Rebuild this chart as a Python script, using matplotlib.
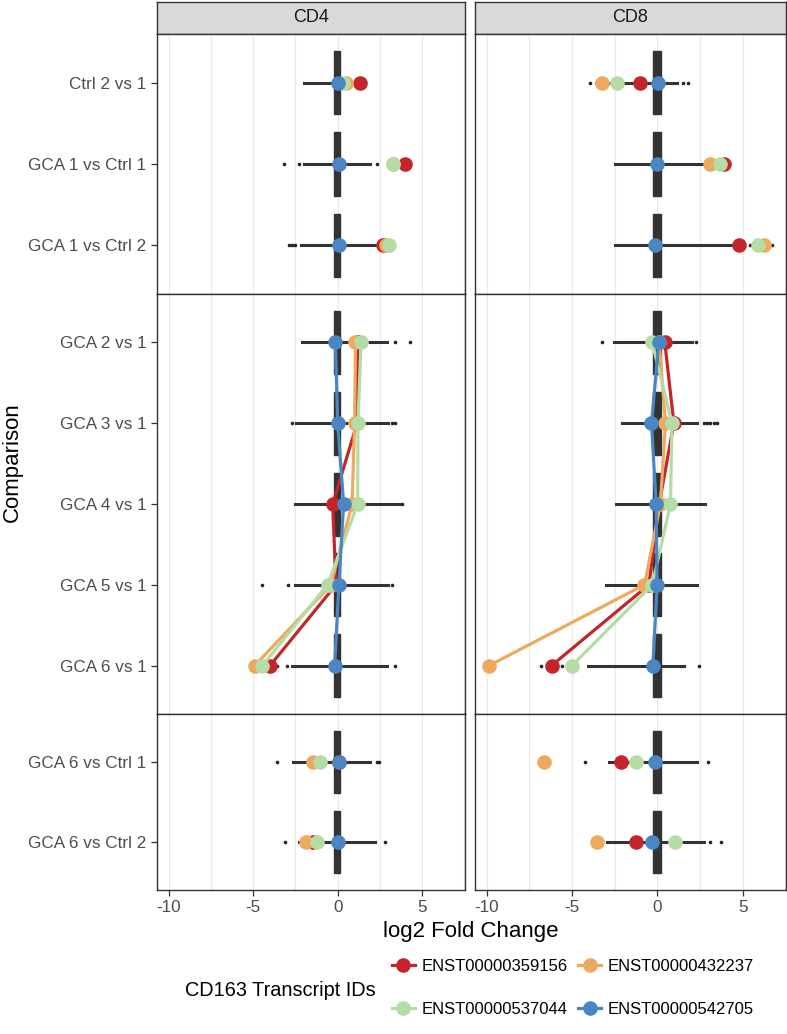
import matplotlib
matplotlib.use('Agg')
import matplotlib.pyplot as plt
from matplotlib.lines import Line2D

plt.rcParams['font.family'] = ['Liberation Sans', 'DejaVu Sans']

# comparisons, split by facet row
rows = [
    ['Ctrl 2 vs 1', 'GCA 1 vs Ctrl 1', 'GCA 1 vs Ctrl 2'],
    ['GCA 2 vs 1', 'GCA 3 vs 1', 'GCA 4 vs 1', 'GCA 5 vs 1', 'GCA 6 vs 1'],
    ['GCA 6 vs Ctrl 1', 'GCA 6 vs Ctrl 2'],
]
cells = ['CD4', 'CD8']
transcripts = ['ENST00000359156', 'ENST00000432237', 'ENST00000537044', 'ENST00000542705']
colors = ['#C3252A', '#EDAA5F', '#B5DCA4', '#4A86C3']

# log2 FC of the four CD163 transcripts, in comparison order (10 values)
cd4_fc = [
    [1.3, 4.0, 2.65, 1.2, 1.15, -0.3, -0.1, -4.0, 0.1, -1.45],
    [0.5, 3.3, 2.85, 1.05, 1.0, 0.85, -0.4, -4.9, -1.45, -1.9],
    [0.3, 3.3, 3.05, 1.38, 1.2, 1.18, -0.6, -4.45, -1.05, -1.2],
    [0.0, 0.1, 0.05, -0.14, 0.0, 0.35, 0.07, -0.18, 0.06, 0.0],
]
cd8_fc = [
    [-1.03, 3.9, 4.8, 0.43, 0.96, 0.1, -0.5, -6.2, -2.16, -1.25],
    [-3.27, 3.06, 6.25, 0.1, 0.47, 0.17, -0.76, -9.86, -6.65, -3.53],
    [-2.4, 3.65, 5.9, -0.31, 0.85, 0.76, -0.3, -5.0, -1.25, 1.05],
    [0.04, 0.0, -0.12, 0.08, -0.35, -0.08, -0.02, -0.27, -0.15, -0.31],
]

# boxplot summary of all transcripts
cd4_q1 = [-0.2] * 10
cd4_q3 = [0.15] * 10
cd4_lo = [-2.0, -2.0, -2.2, -2.1, -2.45, -2.5, -2.5, -2.7, -2.65, -2.3]
cd4_hi = [1.2, 1.9, 2.5, 2.9, 3.0, 3.6, 3.0, 2.9, 1.9, 2.2]
cd4_out = [[], [-3.16, -2.27, 2.3], [-2.9, -2.7, -2.5], [3.4, 4.3], [-2.7, 3.2, 3.4],
           [3.8], [-4.46, -2.94, 3.2], [-3.6, -3.0, 3.4], [-3.6, 2.3, 2.46], [-3.14, 2.79]]
cd8_q1 = [-0.25] * 10
cd8_q3 = [0.2] * 10
cd8_lo = [-3.6, -2.5, -2.5, -2.55, -2.1, -2.45, -3.0, -4.07, -2.85, -2.98]
cd8_hi = [1.15, 3.3, 4.6, 2.0, 2.3, 2.8, 2.3, 1.54, 2.3, 2.7]
cd8_out = [[-3.96, 1.5, 1.8], [], [5.44, 6.7], [-3.27, 2.28], [2.7, 2.9, 3.1, 3.3, 3.5],
           [], [], [-6.8, -5.57, 2.46], [-4.25, 2.94], [3.06, 3.72]]

fc = {'CD4': cd4_fc, 'CD8': cd8_fc}
box = {'CD4': (cd4_q1, cd4_q3, cd4_lo, cd4_hi, cd4_out),
       'CD8': (cd8_q1, cd8_q3, cd8_lo, cd8_hi, cd8_out)}

W, H = 787, 1034
fig = plt.figure(figsize=(W / 100, H / 100), dpi=100)


def rect(x0, y0, x1, y1):
    return [x0 / W, 1 - y1 / H, (x1 - x0) / W, (y1 - y0) / H]


cols_px = [(157, 465), (475, 786)]
rows_px = [(34, 294), (294, 714), (714, 890)]
xlim = (-10.69, 7.53)
dark = '#333333'
ms = 10.5

for c, cell in enumerate(cells):
    x0, x1 = cols_px[c]
    # strip
    sax = fig.add_axes(rect(x0, 2, x1, 34))
    sax.set_facecolor('#D9D9D9')
    sax.set_xticks([])
    sax.set_yticks([])
    for s in sax.spines.values():
        s.set_color(dark)
        s.set_linewidth(1.0)
    sax.text(0.5, 0.5, cell, ha='center', va='center', fontsize=13, color='#1A1A1A',
             transform=sax.transAxes)

    q1, q3, lo, hi, out = box[cell]
    start = 0
    for r, comps in enumerate(rows):
        y0, y1 = rows_px[r]
        ax = fig.add_axes(rect(x0, y0, x1, y1))
        n = len(comps)
        idx = list(range(start, start + n))
        pos = list(range(1, n + 1))

        for v in [-10, -7.5, -5, -2.5, 0, 2.5, 5, 7.5]:
            ax.axvline(v, color='#EBEBEB', lw=0.9, zorder=0)

        stats = [dict(med=0.0, q1=q1[i], q3=q3[i], whislo=lo[i], whishi=hi[i],
                      fliers=out[i]) for i in idx]
        ax.bxp(stats, positions=pos, widths=0.78, orientation='horizontal',
               patch_artist=True, showcaps=False,
               boxprops=dict(facecolor=dark, edgecolor=dark, lw=1.0),
               medianprops=dict(color=dark, lw=1.0),
               whiskerprops=dict(color=dark, lw=2.2),
               flierprops=dict(marker='o', markersize=2.6, markerfacecolor='#222222',
                               markeredgecolor='none'),
               manage_ticks=False, zorder=2)

        for t in range(len(transcripts)):
            vals = [fc[cell][t][i] for i in idx]
            if r == 1:
                ax.plot(vals, pos, color=colors[t], lw=2.3, marker='o', ms=ms,
                        mec='none', zorder=3 + t)
            else:
                ax.plot(vals, pos, color=colors[t], lw=0, marker='o', ms=ms,
                        mec='none', zorder=3 + t)

        ax.set_xlim(*xlim)
        ax.set_ylim(n + 0.6, 0.4)
        for s in ax.spines.values():
            s.set_color(dark)
            s.set_linewidth(1.0)
        ax.tick_params(colors=dark, length=4, width=0.9, labelcolor='#4D4D4D',
                       labelsize=12.3)
        ax.set_yticks(pos)
        if c == 0:
            ax.set_yticklabels(comps)
        else:
            ax.tick_params(axis='y', left=False, labelleft=False)
        ax.set_xticks([-10, -5, 0, 5])
        if r == 2:
            ax.set_xticklabels(['-10', '-5', '0', '5'])
        else:
            ax.tick_params(axis='x', bottom=False, labelbottom=False)
        start += n

fig.text(471 / W, 1 - 931 / H, 'log2 Fold Change', ha='center', va='center', fontsize=16)
fig.text(12 / W, 1 - 462 / H, 'Comparison', ha='center', va='center', rotation=90,
         fontsize=16)

handles = [Line2D([], [], color=colors[t], lw=2.3, marker='o', ms=ms, mec='none')
           for t in range(len(transcripts))]
order = [0, 2, 1, 3]
fig.legend([handles[i] for i in order], [transcripts[i] for i in order], ncol=2,
           loc='center', bbox_to_anchor=(573 / W, 1 - 988 / H), frameon=False,
           fontsize=12, handlelength=1.4, handletextpad=0.4, columnspacing=0.6,
           labelspacing=1.7)
fig.text(280 / W, 1 - 990 / H, 'CD163 Transcript IDs', ha='center', va='center',
         fontsize=14.3)

fig.savefig('out.png', dpi=100)
